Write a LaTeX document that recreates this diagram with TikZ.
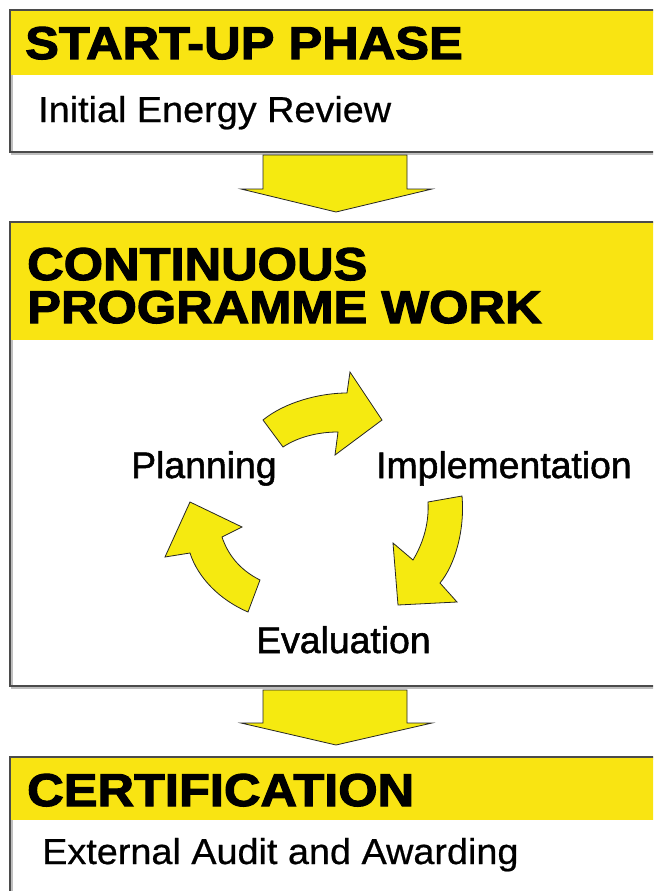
\documentclass[tikz,border=0pt]{standalone}
\usepackage{fontspec}
\setmainfont{Liberation Sans}
\newfontfamily\titlefont[FakeStretch=1.1,FakeBold=2.5]{Liberation Sans Bold}
\newfontfamily\bodyfont[FakeStretch=1.05,FakeBold=0.6]{Liberation Sans}
\newfontfamily\cyclefont[FakeStretch=1.01,FakeBold=1.4]{Liberation Sans}
\definecolor{hdr}{RGB}{249,228,18}
\definecolor{arr}{RGB}{245,234,16}
\definecolor{edge}{RGB}{75,75,75}
\tikzset{
  boxframe/.style={draw=edge,line width=1.6pt},
  boxshadow/.style={draw=black!25,line width=2pt},
  band/.style={fill=hdr},
  arrowfill/.style={fill=arr,draw=black!85,line width=0.8pt,line join=miter},
  titletext/.style={anchor=base west,inner sep=0pt,font=\titlefont\fontsize{46}{52}\selectfont},
  bodytext/.style={anchor=base west,inner sep=0pt,font=\bodyfont\fontsize{36}{40}\selectfont},
  cycletext/.style={anchor=base west,inner sep=0pt,font=\cyclefont\fontsize{37}{42}\selectfont}
}
\begin{document}
\begin{tikzpicture}[x=1pt,y=-1pt]
\useasboundingbox (0,0) rectangle (653,891);
\clip (0,0) rectangle (653,891);
\fill[white] (0,0) rectangle (653,891);
% box 1
\draw[boxshadow] (12,12) rectangle (680,154);
\fill[band] (10,10) rectangle (680,75);
\draw[boxframe] (10,10) rectangle (680,152);
% box 2
\draw[boxshadow] (12,224) rectangle (680,688);
\fill[band] (10,222) rectangle (680,340);
\draw[boxframe] (10,222) rectangle (680,686);
% box 3
\draw[boxshadow] (12,759) rectangle (680,920);
\fill[band] (10,757) rectangle (680,820);
\draw[boxframe] (10,757) rectangle (680,920);
% texts
\node[titletext] (t1) at (25,59) {START-UP PHASE};
\node[bodytext] (b1) at (38,122) {Initial Energy Review};
\node[titletext] (t2a) at (27,280) {CONTINUOUS};
\node[titletext] (t2b) at (27,323) {PROGRAMME WORK};
\node[titletext] (t3) at (27,806) {CERTIFICATION};
\node[bodytext] (b3) at (42,864) {External Audit and Awarding};
\node[cycletext] (plan) at (131,478) {Planning};
\node[cycletext] (impl) at (376,478) {Implementation};
\node[cycletext] (eval) at (256,653) {Evaluation};
% down arrows
\draw[arrowfill] (263,155) -- (407,155) -- (407,189) -- (432,189) -- (336,212) -- (241,189) -- (263,189) -- cycle;
\draw[arrowfill] (263,690) -- (407,690) -- (407,723) -- (432,723) -- (336,745) -- (241,723) -- (263,723) -- cycle;
% cycle arrows
\draw[arrowfill] (263,420) .. controls (285,402) and (320,393) .. (347,393)
  -- (350,372) -- (382,420) -- (335,455) -- (338,432)
  .. controls (318,432) and (298,437) .. (283,447) -- cycle;
\draw[arrowfill] (462,496) .. controls (465,530) and (455,565) .. (440,583)
  -- (457,602) -- (398,605) -- (393,543) -- (413,560)
  .. controls (425,540) and (429,520) .. (428,502) -- cycle;
\draw[arrowfill] (248,612) .. controls (220,600) and (198,578) .. (190,553)
  -- (165,557) -- (190,502) -- (242,527) -- (222,537)
  .. controls (228,555) and (240,570) .. (260,580) -- cycle;
\end{tikzpicture}
\end{document}
